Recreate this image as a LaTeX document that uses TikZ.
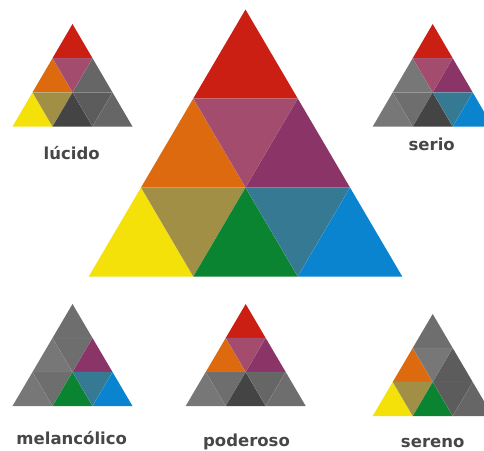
\documentclass[tikz,border=0pt]{standalone}
\usepackage{fontspec}
\setmainfont{DejaVu Sans}
\definecolor{cred}{HTML}{CC1F14}
\definecolor{corange}{HTML}{DE6A10}
\definecolor{cpink}{HTML}{A44C6E}
\definecolor{cpurple}{HTML}{8A3468}
\definecolor{cyellow}{HTML}{F4E10A}
\definecolor{colive}{HTML}{A08F45}
\definecolor{cgreen}{HTML}{0A8431}
\definecolor{cteal}{HTML}{357A92}
\definecolor{cblue}{HTML}{0A84CF}
\definecolor{gA}{HTML}{777777}
\definecolor{gB}{HTML}{6E6E6E}
\definecolor{gC}{HTML}{666666}
\definecolor{gD}{HTML}{5C5C5C}
\definecolor{gK}{HTML}{444444}
\definecolor{txt}{HTML}{474747}
\newcommand\tricells[9]{%
  \fill[#1] (0,0) -- (-0.5,1) -- (0.5,1) -- cycle;
  \fill[#2] (-0.5,1) -- (-1,2) -- (0,2) -- cycle;
  \fill[#3] (-0.5,1) -- (0.5,1) -- (0,2) -- cycle;
  \fill[#4] (0.5,1) -- (0,2) -- (1,2) -- cycle;
  \fill[#5] (-1,2) -- (-1.5,3) -- (-0.5,3) -- cycle;
  \fill[#6] (-1,2) -- (0,2) -- (-0.5,3) -- cycle;
  \fill[#7] (0,2) -- (-0.5,3) -- (0.5,3) -- cycle;
  \fill[#8] (0,2) -- (1,2) -- (0.5,3) -- cycle;
  \fill[#9] (1,2) -- (0.5,3) -- (1.5,3) -- cycle;
  \draw[seam] (-0.5,1) -- (0.5,1) (-1,2) -- (1,2)
    (-0.5,1) -- (0.5,3) (0.5,1) -- (-0.5,3) (-1,2) -- (-0.5,3) (1,2) -- (0.5,3);
}
\tikzset{
  seam/.style={white, opacity=0.12, line width=0.35pt},
  lbl/.style={font=\bfseries\fontsize{16.5}{18}\selectfont, text=txt, anchor=base, inner sep=0pt}
}
\begin{document}
\begin{tikzpicture}[x=1pt,y=-1pt]
\useasboundingbox (0,0) rectangle (484,450);
% big
\begin{scope}[shift={(245.5,9.5)}, xscale=104.5, yscale=89]
\tricells{cred}{corange}{cpink}{cpurple}{cyellow}{colive}{cgreen}{cteal}{cblue}
\end{scope}
% lucido
\begin{scope}[shift={(72.5,24)}, xscale=40, yscale=34.2]
\tricells{cred}{corange}{cpink}{gC}{cyellow}{colive}{gK}{gD}{gC}
\end{scope}
% serio
\begin{scope}[shift={(432.7,24)}, xscale=40, yscale=34.2]
\tricells{cred}{gA}{cpink}{cpurple}{gA}{gB}{gK}{cteal}{cblue}
\end{scope}
% melancolico
\begin{scope}[shift={(72.5,304)}, xscale=40, yscale=34]
\tricells{gB}{gA}{gB}{cpurple}{gA}{gB}{cgreen}{cteal}{cblue}
\end{scope}
% poderoso
\begin{scope}[shift={(245.7,304)}, xscale=40, yscale=34]
\tricells{cred}{corange}{cpink}{cpurple}{gA}{gB}{gK}{gC}{gB}
\end{scope}
% sereno
\begin{scope}[shift={(432.7,314)}, xscale=40, yscale=34]
\tricells{gB}{corange}{gA}{gD}{cyellow}{colive}{cgreen}{gD}{gC}
\end{scope}
\node[lbl] (l1) at (71.7,159) {lúcido};
\node[lbl] (l2) at (431.7,150.5) {serio};
\node[lbl] (l3) at (71.7,444) {melancólico};
\node[lbl] (l4) at (246.5,446) {poderoso};
\node[lbl] (l5) at (432.7,447.5) {sereno};
\end{tikzpicture}
\end{document}
